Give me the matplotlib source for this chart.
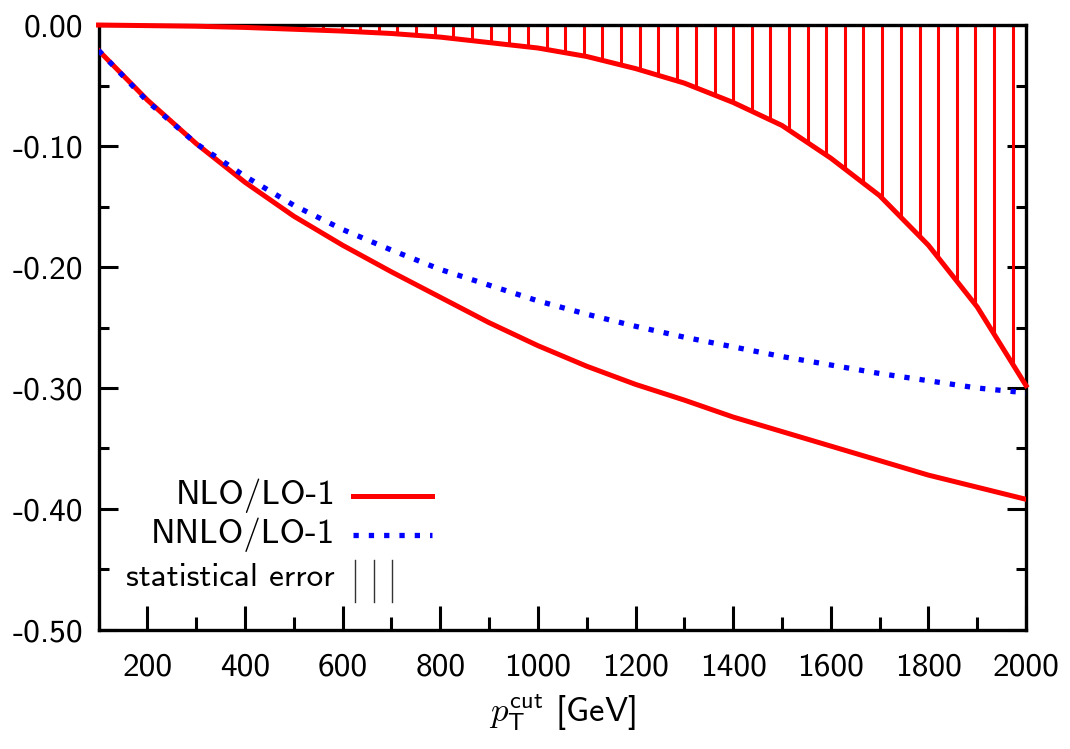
import numpy as np
import matplotlib
matplotlib.use('Agg')
import matplotlib.pyplot as plt

plt.rcParams['font.family'] = ['cmss10', 'DejaVu Sans']
plt.rcParams['mathtext.fontset'] = 'cm'
plt.rcParams['axes.unicode_minus'] = False

# pT cut scan [GeV]
pt = [100, 200, 300, 400, 500, 600, 700, 800, 900, 1000,
      1100, 1200, 1300, 1400, 1500, 1600, 1700, 1800, 1900, 2000]

nlo = [-0.021, -0.062, -0.098, -0.130, -0.158, -0.182, -0.204, -0.225, -0.246, -0.265,
       -0.282, -0.297, -0.310, -0.324, -0.336, -0.348, -0.360, -0.372, -0.382, -0.392]
nnlo = [-0.021, -0.063, -0.098, -0.125, -0.149, -0.169, -0.186, -0.202, -0.215, -0.228,
        -0.239, -0.249, -0.258, -0.266, -0.274, -0.281, -0.288, -0.294, -0.300, -0.304]

# lower edge of the statistical error on NLO/LO-1
stat_lo = [0.000, -0.0005, -0.001, -0.002, -0.0035, -0.005, -0.007, -0.010, -0.0145, -0.019,
           -0.026, -0.036, -0.048, -0.064, -0.083, -0.110, -0.141, -0.182, -0.233, -0.298]

# x positions of the error bars
err_x = [101, 139, 177, 216, 254, 292, 330, 368, 407, 445,
         483, 521, 559, 598, 636, 674, 712, 750, 789, 827,
         865, 903, 941, 980, 1018, 1056, 1094, 1132, 1171, 1209,
         1247, 1285, 1323, 1362, 1400, 1438, 1476, 1514, 1553, 1591,
         1629, 1667, 1705, 1744, 1782, 1820, 1858, 1896, 1935, 1973]

fig = plt.figure(figsize=(10.70, 7.49), dpi=100)
ax = fig.add_axes([0.0921, 0.1589, 0.8668, 0.8077])

red = '#ff0000'
blue = '#0000ff'
dots = (1.0, 1.9)

err_lo = np.interp(err_x, pt, stat_lo)
ax.vlines(err_x, err_lo, 0.0, colors=red, lw=2.2, zorder=2)
ax.plot(pt, stat_lo, color=red, lw=3.6, zorder=3, clip_on=False)
ax.plot(pt, nlo, color=red, lw=3.6, zorder=3)
ax.plot(pt, nnlo, color=blue, lw=3.8, dashes=dots, dash_capstyle='butt', zorder=4)

ax.set_xlim(100, 2000)
ax.set_ylim(-0.5, 0.0)
ax.set_xticks(np.arange(200, 2001, 200))
ax.set_xticks(np.arange(100, 2001, 100), minor=True)
yt = np.arange(-0.5, 0.001, 0.1)
ax.set_yticks(yt)
ax.set_yticks(np.arange(-0.5, 0.001, 0.05), minor=True)
ax.set_yticklabels(['%.2f' % v if abs(v) > 1e-9 else '0.00' for v in yt])

for s in ax.spines.values():
    s.set_linewidth(2.4)
ax.tick_params(axis='x', which='major', direction='in', length=17, width=2.2,
               labelsize=24, pad=16, top=False)
ax.tick_params(axis='x', which='minor', direction='in', length=9.5, width=2.2, top=False)
ax.tick_params(axis='y', which='major', direction='in', length=13.5, width=2.2,
               labelsize=24, pad=11, right=True)
ax.tick_params(axis='y', which='minor', direction='in', length=7, width=2.2, right=True)

ax.set_xlabel(r'$p_{\mathsf{T}}^{\mathsf{cut}}$ [GeV]', fontsize=25, labelpad=8)

# key
tx = 0.255
ax.text(tx, 0.2215, 'NLO/LO-1', transform=ax.transAxes, ha='right', va='center', fontsize=25)
ax.plot([0.2744, 0.3596], [0.2215, 0.2215], transform=ax.transAxes, color=red, lw=3.6)
ax.text(tx, 0.157, 'NNLO/LO-1', transform=ax.transAxes, ha='right', va='center', fontsize=25)
ax.plot([0.2744, 0.3596], [0.157, 0.157], transform=ax.transAxes, color=blue, lw=3.8,
        dashes=dots, dash_capstyle='butt')
ax.text(tx, 0.086, 'statistical error', transform=ax.transAxes, ha='right', va='center', fontsize=24)
for bx in [0.2767, 0.2965, 0.3162]:
    ax.plot([bx, bx], [0.0463, 0.116], transform=ax.transAxes, color='#333333', lw=1.0)

fig.savefig('out.png', dpi=100)
